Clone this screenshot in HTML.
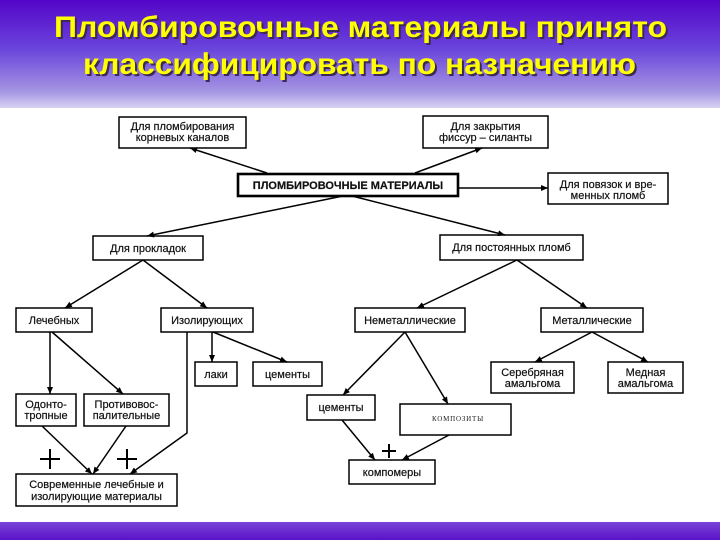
<!DOCTYPE html>
<html><head><meta charset="utf-8"><style>
html,body{margin:0;padding:0;background:#fff;}
body{width:720px;height:540px;overflow:hidden;position:relative;}
svg{position:absolute;left:0;top:0;}
</style></head><body>
<svg width="720" height="540" viewBox="0 0 720 540" xmlns="http://www.w3.org/2000/svg">
<defs>
<linearGradient id="tg" x1="0" y1="0" x2="0" y2="1">
<stop offset="0" stop-color="#5405c8"/>
<stop offset="0.45" stop-color="#6a44dc"/>
<stop offset="0.85" stop-color="#a596e2"/>
<stop offset="1" stop-color="#d8d2f2"/>
</linearGradient>
<linearGradient id="bg2" x1="0" y1="0" x2="0" y2="1">
<stop offset="0" stop-color="#7a44d8"/>
<stop offset="1" stop-color="#5a12c8"/>
</linearGradient>
<marker id="ah" markerWidth="8" markerHeight="8" refX="7" refY="3.5" orient="auto" markerUnits="userSpaceOnUse">
<path d="M0,0.5 L7,3.5 L0,6.5 z" fill="#000"/>
</marker>
</defs>
<rect x="0" y="0" width="720" height="108" fill="url(#tg)"/>
<rect x="0" y="522" width="720" height="18" fill="url(#bg2)"/>
<g font-family="Liberation Sans, Arial, sans-serif" font-weight="bold" font-size="30">
<text x="56" y="39" textLength="613" lengthAdjust="spacingAndGlyphs" fill="#3a2a55">Пломбировочные материалы принято</text>
<text x="54" y="37" textLength="613" lengthAdjust="spacingAndGlyphs" fill="#ffff00">Пломбировочные материалы принято</text>
<text x="85" y="76" textLength="553" lengthAdjust="spacingAndGlyphs" fill="#3a2a55">классифицировать по назначению</text>
<text x="83" y="74" textLength="553" lengthAdjust="spacingAndGlyphs" fill="#ffff00">классифицировать по назначению</text>
</g>
<g fill="#fff" stroke="#000" stroke-width="1.5">
<rect x="119" y="117" width="127" height="31"/>
<rect x="423" y="116" width="125" height="32"/>
<rect x="548" y="173" width="120" height="31"/>
<rect x="93" y="236" width="110" height="24"/>
<rect x="440" y="235" width="143" height="25"/>
<rect x="16" y="308" width="76" height="24"/>
<rect x="161" y="308" width="92" height="24"/>
<rect x="355" y="308" width="110" height="24"/>
<rect x="541" y="308" width="102" height="24"/>
<rect x="195" y="362" width="42" height="24"/>
<rect x="253" y="362" width="69" height="24"/>
<rect x="491" y="362" width="83" height="31"/>
<rect x="608" y="362" width="75" height="31"/>
<rect x="16" y="394" width="60" height="32"/>
<rect x="84" y="394" width="85" height="32"/>
<rect x="307" y="395" width="68" height="25"/>
<rect x="400" y="404" width="111" height="31"/>
<rect x="16" y="474" width="161" height="32"/>
<rect x="349" y="460" width="86" height="24"/>
</g>
<rect x="238" y="174" width="220" height="22" fill="#fff" stroke="#000" stroke-width="2.6"/>
<g stroke="#000" stroke-width="1.5" fill="none" marker-end="url(#ah)">
<line x1="267" y1="173" x2="190" y2="148"/>
<line x1="415" y1="173" x2="482" y2="148"/>
<line x1="458" y1="188" x2="548" y2="188"/>
<line x1="343" y1="196" x2="147" y2="236"/>
<line x1="352" y1="196" x2="505" y2="235"/>
<line x1="143" y1="260" x2="65" y2="308"/>
<line x1="143" y1="260" x2="207" y2="308"/>
<line x1="517" y1="260" x2="417" y2="308"/>
<line x1="517" y1="260" x2="587" y2="308"/>
<line x1="50" y1="332" x2="50" y2="394"/>
<line x1="52" y1="332" x2="123" y2="394"/>
<line x1="212" y1="332" x2="212" y2="362"/>
<line x1="213" y1="332" x2="287" y2="362"/>
<polyline points="187,332 187,433 130,474"/>
<line x1="405" y1="332" x2="343" y2="395"/>
<line x1="405" y1="332" x2="448" y2="404"/>
<line x1="592" y1="332" x2="535" y2="362"/>
<line x1="592" y1="332" x2="648" y2="362"/>
<line x1="42" y1="426" x2="92" y2="474"/>
<line x1="126" y1="426" x2="93" y2="474"/>
<line x1="342" y1="420" x2="375" y2="460"/>
<line x1="449" y1="435" x2="402" y2="460"/>
</g>
<g stroke="#000" stroke-width="2">
<line x1="40" y1="459" x2="60" y2="459"/><line x1="50" y1="449" x2="50" y2="469"/>
<line x1="117" y1="459" x2="137" y2="459"/><line x1="127" y1="449" x2="127" y2="469"/>
<line x1="382" y1="451" x2="396" y2="451"/><line x1="389" y1="444" x2="389" y2="458"/>
</g>
<g font-family="Liberation Sans, Arial, sans-serif" font-size="11" fill="#111" stroke="#111" stroke-width="0.2" text-anchor="middle">
<text x="182.5" y="130">Для пломбирования</text>
<text x="182.5" y="141">корневых каналов</text>
<text x="485.5" y="130">Для закрытия</text>
<text x="485.5" y="141">фиссур – силанты</text>
<text x="348" y="189" font-weight="bold" font-size="11">ПЛОМБИРОВОЧНЫЕ МАТЕРИАЛЫ</text>
<text x="608" y="188">Для повязок и вре-</text>
<text x="608" y="199">менных пломб</text>
<text x="148" y="252">Для прокладок</text>
<text x="511.5" y="251">Для постоянных пломб</text>
<text x="54" y="324">Лечебных</text>
<text x="207" y="324">Изолирующих</text>
<text x="410" y="324">Неметаллические</text>
<text x="592" y="324">Металлические</text>
<text x="216" y="378">лаки</text>
<text x="287.5" y="378">цементы</text>
<text x="532.5" y="376">Серебряная</text>
<text x="532.5" y="387">амальгома</text>
<text x="645.5" y="376">Медная</text>
<text x="645.5" y="387">амальгома</text>
<text x="46" y="408">Одонто-</text>
<text x="46" y="419">тропные</text>
<text x="126.5" y="408">Противовос-</text>
<text x="126.5" y="419">палительные</text>
<text x="341" y="411">цементы</text>
<text x="96.5" y="488">Современные лечебные и</text>
<text x="96.5" y="500">изолирующие материалы</text>
<text x="392" y="476">компомеры</text>
</g>
<text x="458" y="421" font-family="Liberation Serif, serif" font-size="7" letter-spacing="0.8" fill="#222" text-anchor="middle">КОМПОЗИТЫ</text>
</svg>
</body></html>
